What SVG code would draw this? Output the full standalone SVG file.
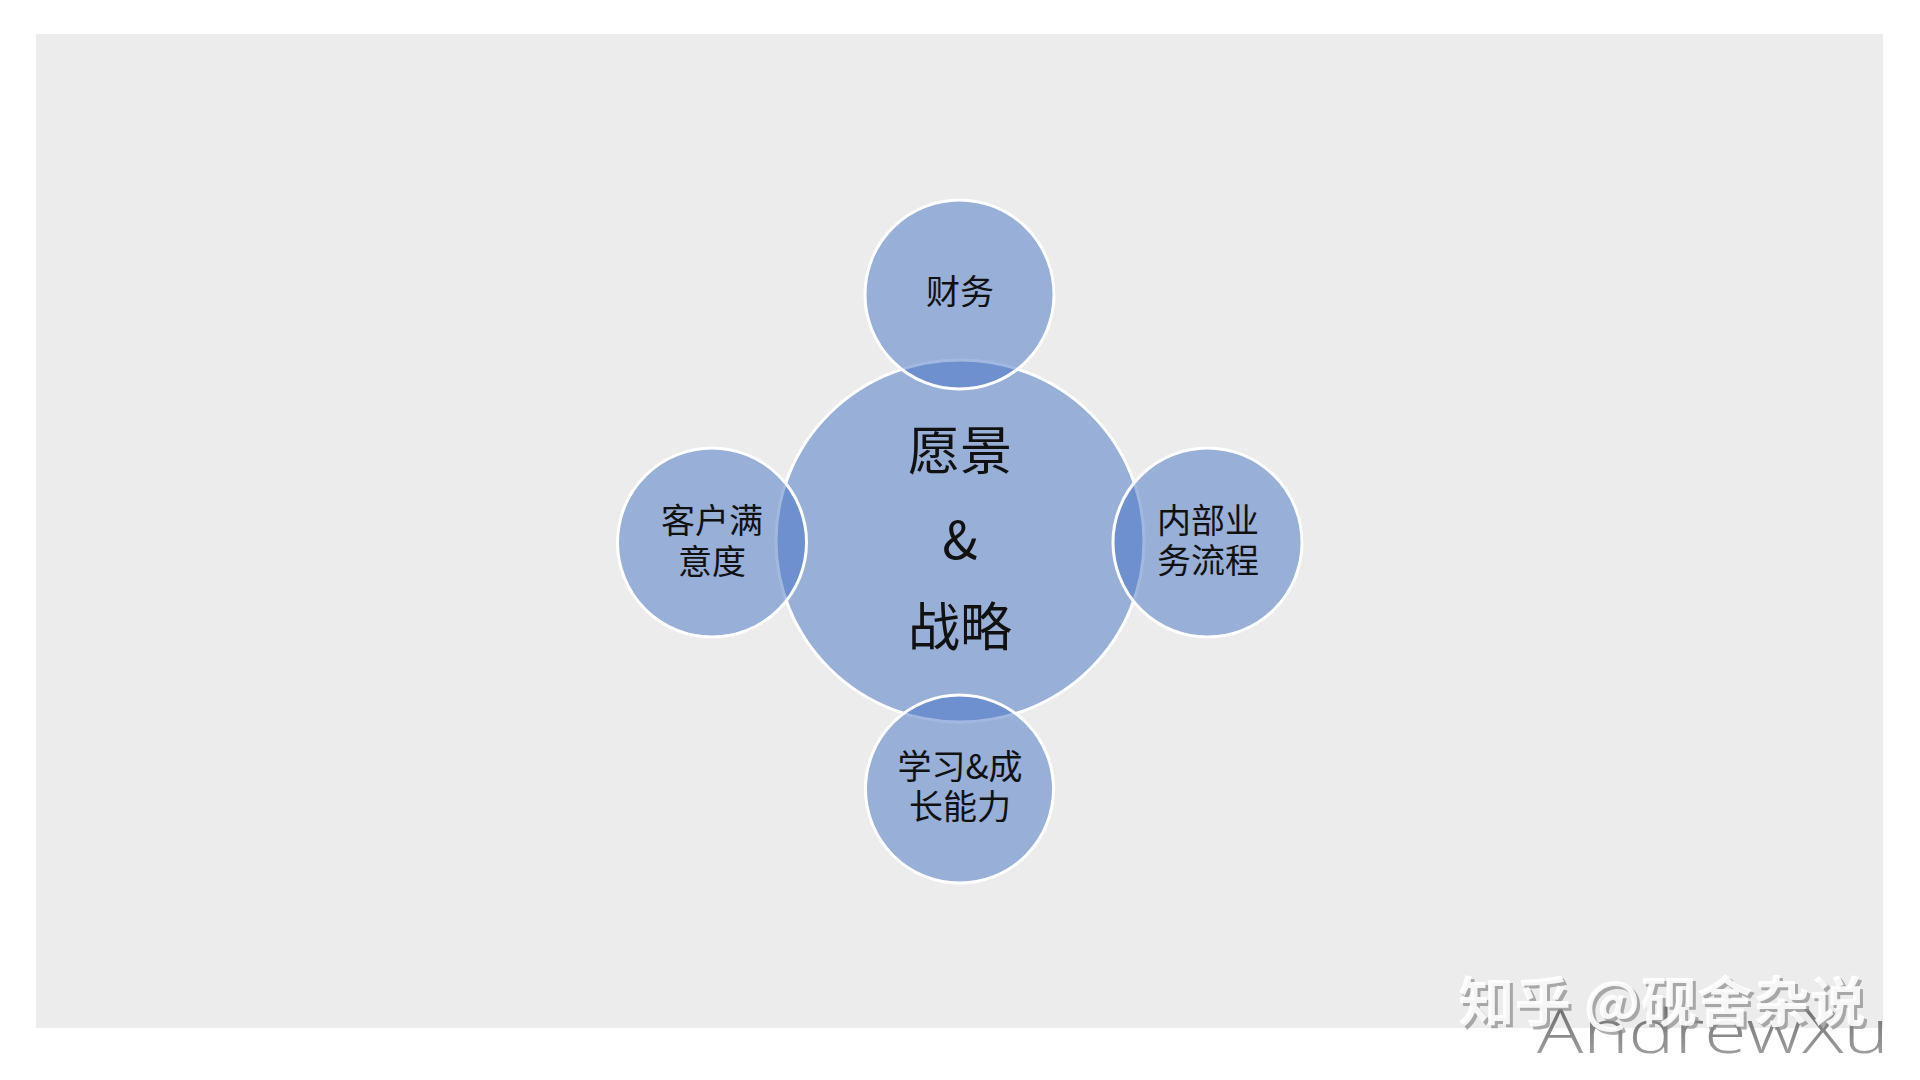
<svg xmlns="http://www.w3.org/2000/svg" width="1920" height="1080" viewBox="0 0 1920 1080">
  <defs>
    <linearGradient id="wmGrad" x1="0" y1="0" x2="0" y2="1">
      <stop offset="0" stop-color="#5a5a5a"/>
      <stop offset="1" stop-color="#b0b0b0"/>
    </linearGradient>
  </defs>
  <style>
    .venn { fill: #4472C4; fill-opacity: 0.5; stroke: #ffffff; stroke-width: 3; }
    .lbl { font-family: "Microsoft YaHei", "Noto Sans CJK SC", "Noto Sans", sans-serif; fill: #111111; text-anchor: middle; dominant-baseline: central; }
    .sm { font-size: 34px; }
    .lg { font-size: 52px; }
  </style>
  <rect x="0" y="0" width="1920" height="1080" fill="#ffffff"/>
  <rect x="36" y="34" width="1847" height="994" fill="#ECECEC"/>

  <g id="node-center">
    <ellipse class="venn" cx="960" cy="541" rx="184" ry="181"/>
    <text class="lbl lg" x="960" y="447">愿景</text>
    <text class="lbl lg" x="960" y="536">&amp;</text>
    <text class="lbl lg" x="960" y="623">战略</text>
  </g>

  <g id="node-finance">
    <circle class="venn" cx="959.5" cy="294.5" r="94.5"/>
    <text class="lbl sm" x="960" y="289">财务</text>
  </g>

  <g id="node-customer">
    <circle class="venn" cx="712" cy="542.5" r="94.5"/>
    <text class="lbl sm" x="712" y="518">客户满</text>
    <text class="lbl sm" x="712" y="559">意度</text>
  </g>

  <g id="node-internal">
    <circle class="venn" cx="1207.5" cy="542.5" r="94.5"/>
    <text class="lbl sm" x="1208" y="518">内部业</text>
    <text class="lbl sm" x="1208" y="558">务流程</text>
  </g>

  <g id="node-learning">
    <circle class="venn" cx="959.5" cy="789" r="94"/>
    <text class="lbl sm" x="960" y="764">学习&amp;成</text>
    <text class="lbl sm" x="960" y="804">长能力</text>
  </g>

  <g id="connectors"></g>

  <g id="watermark">
    <text x="1889" y="1053" font-family="Open Sans, Liberation Sans, sans-serif" font-weight="300" font-size="60" fill="url(#wmGrad)" text-anchor="end" textLength="352" lengthAdjust="spacingAndGlyphs">AndrewXu</text>
    <text x="1461" y="1025" font-family="Noto Sans CJK SC, sans-serif" font-weight="bold" font-size="54" fill="#8a8a8a" opacity="0.7" textLength="408" lengthAdjust="spacingAndGlyphs">知乎 @砚舍杂说</text>
    <text x="1458" y="1022" font-family="Noto Sans CJK SC, sans-serif" font-weight="bold" font-size="54" fill="#ffffff" opacity="0.9" textLength="408" lengthAdjust="spacingAndGlyphs">知乎 @砚舍杂说</text>
  </g>
</svg>
